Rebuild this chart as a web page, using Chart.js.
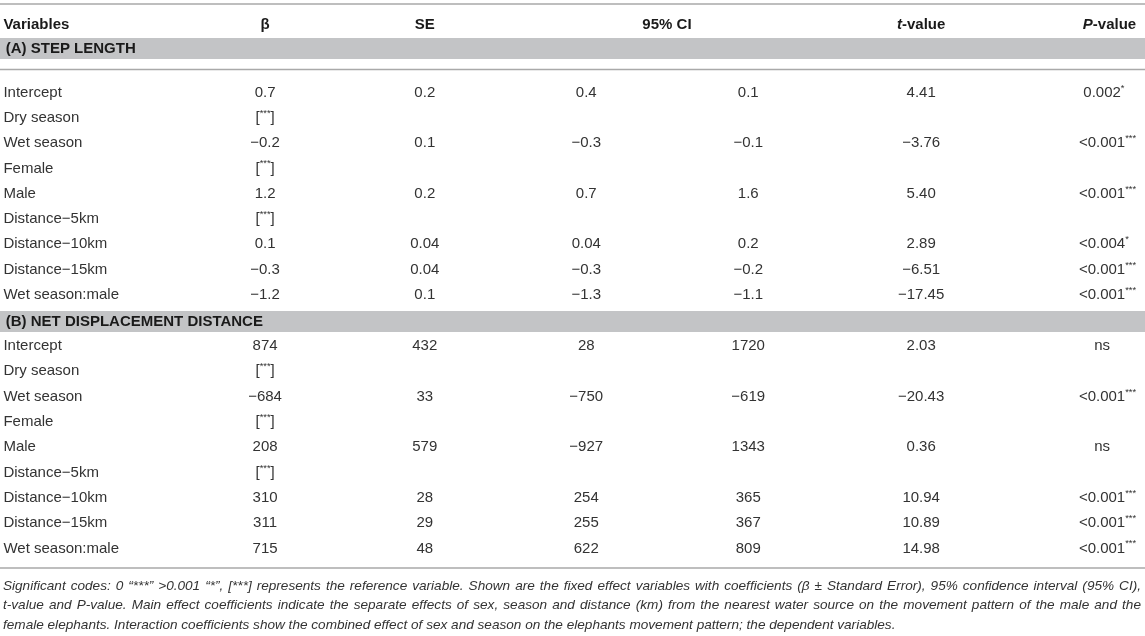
<!DOCTYPE html>
<html lang="en">
<head>
<meta charset="UTF-8">
<title>Fixed effects - step length / net displacement</title>
<style>
  html, body { margin: 0; padding: 0; background: #fff; }
  .chart-wrap { position: relative; width: 1145px; height: 636px; }
</style>
</head>
<body>
<div class="chart-wrap"><canvas id="tableChart"></canvas></div>

<script src="https://cdn.jsdelivr.net/npm/chart.js@4.4.0/dist/chart.umd.min.js"></script>
<script>
  // column headings (_{..} = italic, ^{..} = superscript)
  const headers = ['Variables', 'β', 'SE', '95% CI', '_{t}-value', '_{P}-value'];
  const sections = ['(A) STEP LENGTH', '(B) NET DISPLACEMENT DISTANCE'];
  const variables = ['Intercept', 'Dry season', 'Wet season', 'Female', 'Male',
    'Distance−5km', 'Distance−10km', 'Distance−15km', 'Wet season:male'];

  // (A) step length
  const betaA = ['0.7', '[^{***}]', '−0.2', '[^{***}]', '1.2', '[^{***}]', '0.1', '−0.3', '−1.2'];
  const seA = ['0.2', '', '0.1', '', '0.2', '', '0.04', '0.04', '0.1'];
  const ciLowA = ['0.4', '', '−0.3', '', '0.7', '', '0.04', '−0.3', '−1.3'];
  const ciHighA = ['0.1', '', '−0.1', '', '1.6', '', '0.2', '−0.2', '−1.1'];
  const tA = ['4.41', '', '−3.76', '', '5.40', '', '2.89', '−6.51', '−17.45'];
  const pA = ['0.002^{*}', '', '<0.001^{***}', '', '<0.001^{***}', '', '<0.004^{*}', '<0.001^{***}', '<0.001^{***}'];

  // (B) net displacement distance
  const betaB = ['874', '[^{***}]', '−684', '[^{***}]', '208', '[^{***}]', '310', '311', '715'];
  const seB = ['432', '', '33', '', '579', '', '28', '29', '48'];
  const ciLowB = ['28', '', '−750', '', '−927', '', '254', '255', '622'];
  const ciHighB = ['1720', '', '−619', '', '1343', '', '365', '367', '809'];
  const tB = ['2.03', '', '−20.43', '', '0.36', '', '10.94', '10.89', '14.98'];
  const pB = ['ns', '', '<0.001^{***}', '', 'ns', '', '<0.001^{***}', '<0.001^{***}', '<0.001^{***}'];

  const footnote = [
    'Significant codes: 0 “***” >0.001 “*”, [***] represents the reference variable. Shown are the fixed effect variables with coefficients (β ± Standard Error), 95% confidence interval (95% CI),',
    't-value and P-value. Main effect coefficients indicate the separate effects of sex, season and distance (km) from the nearest water source on the movement pattern of the male and the',
    'female elephants. Interaction coefficients show the combined effect of sex and season on the elephants movement pattern; the dependent variables.'
  ];

  // ---- layout (x in % of width, y in table units top->bottom) ----
  const FONT = '"Liberation Sans", Arial, Helvetica, sans-serif';
  const colX = [0.3, 23.15, 37.1, 51.2, 65.35, 80.45, 96.25];
  const headX = [0.3, 23.15, 37.1, 58.25, 80.45, 96.9];
  const textLeft = 0.26, textRight = 99.65, bandTextX = 0.5;
  const ROW_STEP = 25.3;
  const topRule = 4, headerY = 24.5, ruleA = 69.5, bottomRule = 568;
  const bandBoxes = [[38, 59], [311, 332]];
  const firstRow = [92.5, 346];
  const footY = [586, 605.5, 625];

  const styles = {
    head: { size: 15, bold: true, color: '#1a1a1a' },
    band: { size: 15, bold: true, color: '#1a1a1a' },
    cell: { size: 15, color: '#333333' },
    foot: { size: 13.6, italic: true, color: '#333333' }
  };

  // ---- build cell points ----
  const cells = [];
  headers.forEach((h, i) => {
    cells.push({ x: headX[i], y: headerY, text: h, style: 'head', align: i === 0 ? 'left' : 'center' });
  });
  const sectionCols = [
    [betaA, seA, ciLowA, ciHighA, tA, pA],
    [betaB, seB, ciLowB, ciHighB, tB, pB]
  ];
  sections.forEach((name, s) => {
    const box = bandBoxes[s];
    cells.push({ x: bandTextX, y: (box[0] + box[1]) / 2, text: name, style: 'band', align: 'left' });
    variables.forEach((v, r) => {
      const y = firstRow[s] + r * ROW_STEP;
      cells.push({ x: colX[0], y: y, text: v, style: 'cell', align: 'left' });
      sectionCols[s].forEach((col, c) => {
        if (col[r]) cells.push({ x: colX[c + 1], y: y, text: col[r], style: 'cell', align: 'center' });
      });
    });
  });
  footnote.forEach((line, i) => {
    cells.push({ x: textLeft, y: footY[i], text: line, style: 'foot', align: i < 2 ? 'justify' : 'left', plain: true });
  });

  // ---- rich text helpers ----
  function segmentsOf(str, plain) {
    if (plain) return [{ text: str }];
    const out = [];
    str.split(/(\^\{[^}]*\}|_\{[^}]*\})/).forEach(part => {
      if (!part) return;
      if (part.startsWith('^{')) out.push({ text: part.slice(2, -1), sup: true });
      else if (part.startsWith('_{')) out.push({ text: part.slice(2, -1), italic: true });
      else out.push({ text: part });
    });
    return out;
  }

  function fontOf(st, seg) {
    const size = seg.sup ? st.size * 0.62 : st.size;
    return (seg.italic || st.italic ? 'italic ' : '') + (st.bold ? 'bold ' : '') + size + 'px ' + FONT;
  }

  function drawRich(ctx, cell, x, y, xRight) {
    const st = styles[cell.style];
    ctx.fillStyle = st.color;
    ctx.textBaseline = 'middle';
    ctx.textAlign = 'left';

    if (cell.align === 'justify') {
      ctx.font = fontOf(st, {});
      const words = cell.text.split(' ');
      const widths = words.map(w => ctx.measureText(w).width);
      const total = widths.reduce((a, b) => a + b, 0);
      const gap = (xRight - x - total) / (words.length - 1);
      let cx = x;
      words.forEach((w, i) => { ctx.fillText(w, cx, y); cx += widths[i] + gap; });
      return;
    }

    const segs = segmentsOf(cell.text, cell.plain);
    segs.forEach(s => { ctx.font = fontOf(st, s); s.w = ctx.measureText(s.text).width; });
    let anchorW = segs.reduce((a, s) => a + s.w, 0);
    const last = segs[segs.length - 1];
    if (segs.length > 1 && last.sup) anchorW -= last.w; // center on the number, stars hang right
    let cx = cell.align === 'center' ? x - anchorW / 2 : x;
    segs.forEach(s => {
      ctx.font = fontOf(st, s);
      ctx.fillText(s.text, cx, s.sup ? y - st.size * 0.3 : y);
      cx += s.w;
    });
  }

  // ---- plugin: bands, rules and text ----
  const tablePlugin = {
    id: 'tableDraw',
    beforeDatasetsDraw(chart) {
      const { ctx, chartArea: { left, right }, scales: { y } } = chart;
      ctx.save();
      ctx.fillStyle = '#c3c4c6';
      bandBoxes.forEach(b => {
        const t = y.getPixelForValue(b[0]);
        const btm = y.getPixelForValue(b[1]);
        ctx.fillRect(left, t, right - left, btm - t);
      });
      ctx.strokeStyle = '#a9a9a9';
      ctx.lineWidth = 1.5;
      [topRule, ruleA, bottomRule].forEach(v => {
        const py = y.getPixelForValue(v);
        ctx.beginPath();
        ctx.moveTo(left, py);
        ctx.lineTo(right, py);
        ctx.stroke();
      });
      ctx.restore();
    },
    afterDatasetsDraw(chart) {
      const ctx = chart.ctx;
      const meta = chart.getDatasetMeta(0);
      const data = chart.data.datasets[0].data;
      const xRight = chart.scales.x.getPixelForValue(textRight);
      ctx.save();
      meta.data.forEach((pt, i) => drawRich(ctx, data[i], pt.x, pt.y, xRight));
      ctx.restore();
    }
  };

  new Chart(document.getElementById('tableChart'), {
    type: 'scatter',
    plugins: [tablePlugin],
    data: {
      datasets: [{
        data: cells,
        pointRadius: 0,
        pointHoverRadius: 0
      }]
    },
    options: {
      responsive: true,
      maintainAspectRatio: false,
      animation: false,
      events: [],
      layout: { padding: 0 },
      plugins: {
        legend: { display: false },
        tooltip: { enabled: false }
      },
      scales: {
        x: { type: 'linear', min: 0, max: 100, display: false },
        y: { type: 'linear', min: 0, max: 636, reverse: true, display: false }
      }
    }
  });
</script>
</body>
</html>
